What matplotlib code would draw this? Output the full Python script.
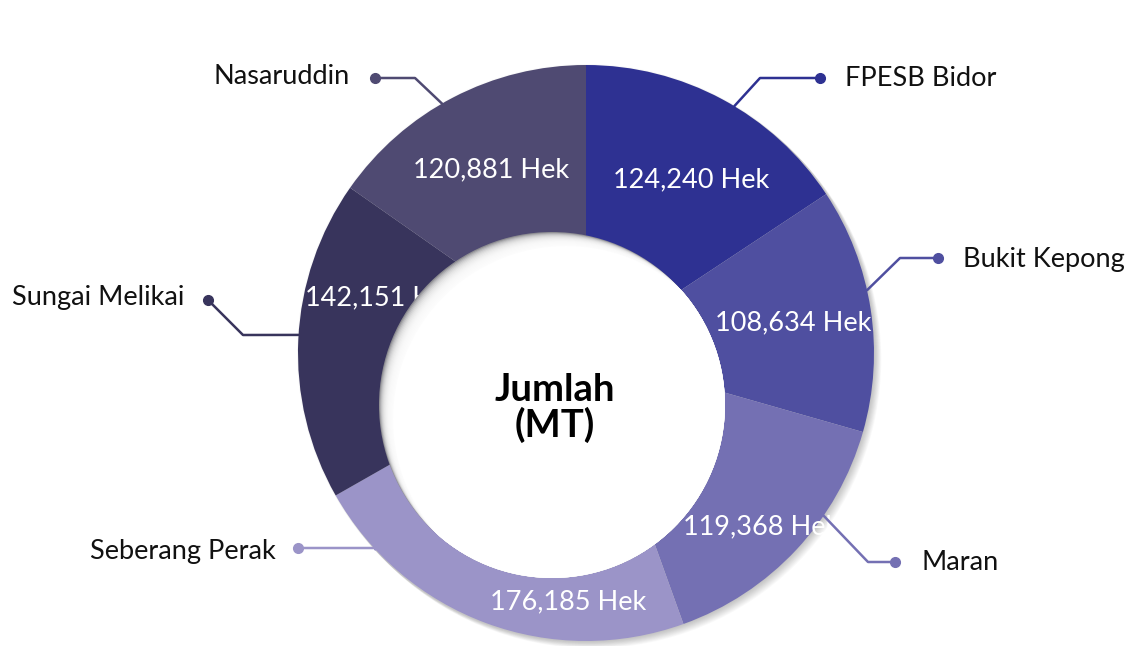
import numpy as np
import matplotlib
matplotlib.use("Agg")
import matplotlib.pyplot as plt
from matplotlib.patches import Circle

plt.rcParams['font.family'] = ['Lato', 'DejaVu Sans']

# data
regions = ['FPESB Bidor', 'Bukit Kepong', 'Maran', 'Seberang Perak', 'Sungai Melikai', 'Nasaruddin']
hectares = [124240, 108634, 119368, 176185, 142151, 120881]
colors = ['#2e3192', '#4f4fa0', '#7470b3', '#9b94c8', '#38345c', '#4f4a72']
center_title = ['Jumlah', '(MT)']

W, H = 1134, 646


def fy(y):
    # pixel row (from top) -> data y
    return H - y


# layout, in pixel coords of the picture
ring_c = (586, fy(353))
ring_r = 288
hole_c = (552, fy(405))
hole_r = 173
value_pos = [(691, 180), (793, 323), (761, 527), (568, 602), (383, 298), (491, 170)]
# leader: angle on ring, elbow point, dot point
leaders = [
    (59, (760, 78), (820, 78)),
    (12.6, (900, 258), (938, 258)),
    (-34.4, (868, 562), (895, 562)),
    (-137, (375, 548), (298, 548)),
    (176.4, (243, 335), (208, 300)),
    (120, (415, 78), (375, 78)),
]
name_pos = [(845, 78, 'left'), (963, 259, 'left'), (921, 562, 'left'),
            (276, 552, 'right'), (184, 297, 'right'), (350, 77, 'right')]

fig = plt.figure(figsize=(W / 100, H / 100), dpi=100)
ax = fig.add_axes([0, 0, 1, 1])

# soft shadow behind the ring
for i in range(10):
    ax.add_patch(Circle((ring_c[0] + i * 0.7, ring_c[1] - i * 0.7), ring_r + 1,
                        fc='black', ec='none', alpha=0.025, zorder=0))

ax.pie(hectares, colors=colors, startangle=90, counterclock=False,
       radius=ring_r, center=ring_c, wedgeprops=dict(linewidth=0))

for v, (x, y) in zip(hectares, value_pos):
    ax.text(x, fy(y), f'{v:,} Hek', color='white', fontsize=19.5,
            ha='center', va='center', zorder=3)

# hole with inner shadow
base = Circle(hole_c, hole_r, fc='#8e8e92', ec='none', zorder=5)
ax.add_patch(base)
for i in range(14):
    c = Circle((hole_c[0] + (i + 1) * 0.9, hole_c[1] - (i + 1) * 0.9), hole_r,
               fc='white', ec='none', alpha=0.25, zorder=6)
    ax.add_patch(c)
    c.set_clip_path(base)
top = Circle((hole_c[0] + 14, hole_c[1] - 14), hole_r, fc='white', ec='none', zorder=7)
ax.add_patch(top)
top.set_clip_path(base)

ax.text(555, fy(390), center_title[0], fontsize=27.5, fontweight='bold',
        ha='center', va='center', zorder=8, color='black')
ax.text(555, fy(425), center_title[1], fontsize=27.5, fontweight='bold',
        ha='center', va='center', zorder=8, color='black')

# leader lines and names
for name, col, (ang, elbow, dot), (tx, ty, ha) in zip(regions, colors, leaders, name_pos):
    a = np.deg2rad(ang)
    sx = ring_c[0] + ring_r * np.cos(a)
    sy = ring_c[1] + ring_r * np.sin(a)
    ax.plot([sx, elbow[0], dot[0]], [sy, fy(elbow[1]), fy(dot[1])],
            color=col, lw=1.8, solid_capstyle='round', zorder=9)
    ax.plot(dot[0], fy(dot[1]), 'o', color=col, ms=7, zorder=9)
    ax.text(tx, fy(ty), name, fontsize=19.5, ha=ha, va='center', color='#111111', zorder=9)

ax.set_xlim(0, W)
ax.set_ylim(0, H)
ax.set_aspect('equal')
ax.axis('off')

fig.savefig('out.png', dpi=100, facecolor='white')
